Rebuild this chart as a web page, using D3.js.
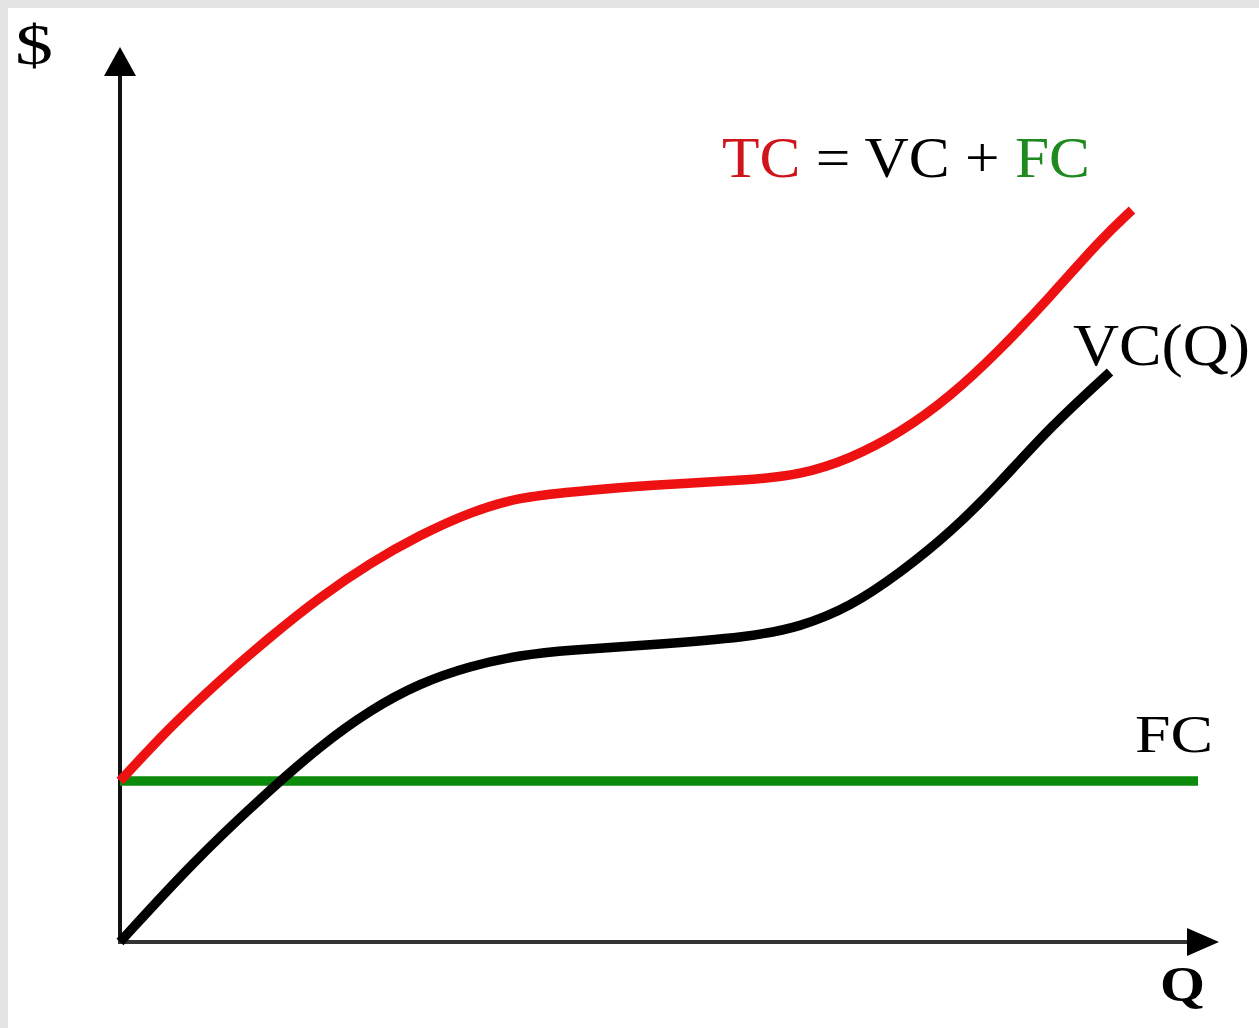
<!DOCTYPE html>
<html>
<head>
<meta charset="utf-8">
<script src="https://cdn.jsdelivr.net/npm/d3@7/dist/d3.min.js"></script>
<style>
  html, body { margin: 0; padding: 0; background: #e4e4e4; }
  svg { display: block; }
</style>
</head>
<body>
<svg id="chart" width="1259" height="1028"></svg>
<script>
// Quantity (abstract units) and cost values
const vcQ    = [0, 7.3, 14.3, 20, 25, 30, 35, 40, 45, 53, 63, 68, 73, 78, 83, 88, 93, 99];
const vcVals = [0, 8.0, 14.6, 19.6, 23.2, 25.9, 27.6, 28.7, 29.2, 29.7, 30.5, 31.5, 33.5, 36.9, 40.9, 45.9, 51.5, 57.0];

const tcQ    = [0, 5, 10, 15, 20, 25, 30, 35, 40, 45, 53, 63, 68, 73, 78, 83, 88, 93, 98, 101.2];
const tcVals = [16.1, 21.5, 26.2, 30.5, 34.5, 37.9, 40.7, 43.0, 44.5, 45.0, 45.7, 46.2, 46.7, 48.3, 50.9, 54.5, 59.2, 64.5, 70.2, 73.2];

const fcQ    = [0, 107.8];
const fcVals = [16.1, 16.1];

const svg = d3.select("#chart");

// white panel with grey frame on top/left
svg.append("rect").attr("x", 8).attr("y", 8).attr("width", 1251).attr("height", 1020).attr("fill", "#ffffff");

const x = d3.scaleLinear().domain([0, 110]).range([120, 1220]);
const y = d3.scaleLinear().domain([0, 90]).range([942, 42]);

const line = d3.line().x(d => x(d[0])).y(d => y(d[1])).curve(d3.curveBasis);
const zip = (a, b) => a.map((v, i) => [v, b[i]]);

// axes
const g = svg.append("g");
g.append("line").attr("x1", x(0)).attr("y1", y(0)).attr("x2", x(0)).attr("y2", 70)
  .attr("stroke", "#111").attr("stroke-width", 4);
g.append("path").attr("d", `M${x(0)},47 L${x(0) - 16},76 L${x(0) + 16},76 Z`).attr("fill", "#000");
g.append("line").attr("x1", x(0) - 2).attr("y1", y(0)).attr("x2", 1192).attr("y2", y(0))
  .attr("stroke", "#333").attr("stroke-width", 4);
g.append("path").attr("d", `M1219,${y(0)} L1187,${y(0) - 14} L1187,${y(0) + 14} Z`).attr("fill", "#000");

// curves
svg.append("path").datum(zip(fcQ, fcVals)).attr("d", d3.line().x(d => x(d[0])).y(d => y(d[1])))
  .attr("fill", "none").attr("stroke", "#0b8a0b").attr("stroke-width", 9.5);
svg.append("path").datum(zip(vcQ, vcVals)).attr("d", line)
  .attr("fill", "none").attr("stroke", "#000").attr("stroke-width", 9.5);
svg.append("path").datum(zip(tcQ, tcVals)).attr("d", line)
  .attr("fill", "none").attr("stroke", "#ee1111").attr("stroke-width", 9.5);

// labels
const font = "'Liberation Serif', 'Times New Roman', serif";
function label(txt, px, py, size, len, color, weight) {
  return svg.append("text").attr("x", px).attr("y", py)
    .attr("font-family", font).attr("font-size", size)
    .attr("font-weight", weight || "normal")
    .attr("fill", color || "#000")
    .attr("textLength", len).attr("lengthAdjust", "spacingAndGlyphs")
    .text(txt);
}
label("$", 15, 64, 58, 38);
label("FC", 1135, 752, 52, 78);
label("VC(Q)", 1073, 365, 60, 177);
label("Q", 1160, 1001, 50, 45, "#000", "bold");

const eq = svg.append("text").attr("x", 722).attr("y", 177)
  .attr("font-family", font).attr("font-size", 56)
  .attr("textLength", 368).attr("lengthAdjust", "spacingAndGlyphs");
eq.append("tspan").attr("fill", "#d0141c").text("TC");
eq.append("tspan").attr("fill", "#000").text(" = VC + ");
eq.append("tspan").attr("fill", "#1e8a1e").text("FC");
</script>
</body>
</html>
